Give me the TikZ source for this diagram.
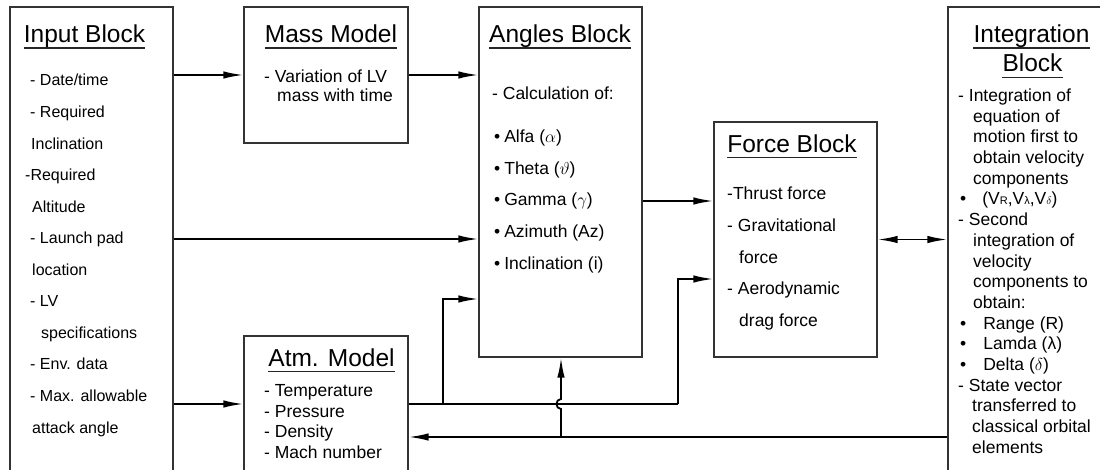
\documentclass[tikz,border=0pt]{standalone}
\usepackage{fontspec}
\setmainfont{Liberation Sans}
\usetikzlibrary{arrows.meta}
\begin{document}
\begin{tikzpicture}[x=1pt,y=-1pt,
  blk/.style={draw=black!80, line width=1.4pt, inner sep=0pt, rectangle},
  ttl/.style={font=\fontsize{24.5}{29}\selectfont, inner sep=0pt, anchor=base},
  txt/.style={inner sep=0pt, anchor=base west},
  ul/.style={line width=1.4pt, black!85},
  con/.style={line width=1.8pt},
  arr/.style={con, -{Latex[length=20pt,width=7.5pt]}},
  darr/.style={con, {Latex[length=20pt,width=7.5pt]}-{Latex[length=20pt,width=7.5pt]}}]
\useasboundingbox (0,0) rectangle (1100,470);
\clip (0,0) rectangle (1100,470);
\fill[white] (0,0) rectangle (1100,470);

% blocks
\node[blk, minimum width=163pt, minimum height=480pt] (input) at (91.5,247) {};
\node[blk, minimum width=164pt, minimum height=136pt] (mass) at (326,75) {};
\node[blk, minimum width=163pt, minimum height=350pt] (angles) at (560.5,182) {};
\node[blk, minimum width=164pt, minimum height=154pt] (atm) at (326,413) {};
\node[blk, minimum width=163pt, minimum height=235pt] (force) at (795.5,239.5) {};
\node[blk, minimum width=162pt, minimum height=480pt] (integ) at (1029,247) {};

% titles
\node[ttl] (inputT) at (84.5,42.5) {Input Block};
\node[ttl] (massT) at (331,42.5) {Mass Model};
\node[ttl] (anglesT) at (560,42.5) {Angles Block};
\node[ttl] (forceT) at (792,152.3) {Force Block};
\node[ttl] (atmT) at (331.5,366) {Atm. Model};
\node[ttl] (integT) at (1031.5,42.5) {Integration};
\node[ttl] (integTb) at (1032.5,72) {Block};
\foreach \t in {inputT,massT,anglesT,forceT,atmT,integT,integTb}
  \draw[ul] ([yshift=-5.5pt]\t.base west) -- ([yshift=-5.5pt]\t.base east);

% body texts
\node[txt, font=\fontsize{16}{31.55}\selectfont] (inputB) at (30,86) {\begin{tabular}[t]{@{}l@{}}
- Date/time\\
- Required\\
\hspace*{1pt}Inclination\\
\hspace*{-5pt}-Required\\
\hspace*{2pt}Altitude\\
- Launch pad\\
\hspace*{2pt}location\\
- LV\\
\hspace*{11pt}specifications\\
- Env. data\\
- Max. allowable\\
\hspace*{2pt}attack angle
\end{tabular}};

\node[txt, font=\fontsize{17.5}{19}\selectfont] (massB) at (264,83) {\begin{tabular}[t]{@{}l@{}}
- Variation of LV\\
\hspace*{13pt}mass with time
\end{tabular}};

\node[txt, font=\fontsize{17.5}{21}\selectfont] (anglesB1) at (492,100) {- Calculation of:};
\node[txt, font=\fontsize{17.5}{31.75}\selectfont] (anglesB2) at (494,142.3) {\begin{tabular}[t]{@{}l@{}}
•\hspace{4pt}Alfa ($\alpha$)\\
•\hspace{4pt}Theta ($\vartheta$)\\
•\hspace{4pt}Gamma ($\gamma$)\\
•\hspace{4pt}Azimuth (Az)\\
•\hspace{4pt}Inclination (i)
\end{tabular}};

\node[txt, font=\fontsize{17.5}{31.6}\selectfont] (forceB) at (727,200) {\begin{tabular}[t]{@{}l@{}}
-Thrust force\\
- Gravitational\\
\hspace*{12pt}force\\
- Aerodynamic\\
\hspace*{12pt}drag force
\end{tabular}};

\node[txt, font=\fontsize{17.5}{20.5}\selectfont] (atmB) at (264,396.7) {\begin{tabular}[t]{@{}l@{}}
- Temperature\\
- Pressure\\
- Density\\
- Mach number
\end{tabular}};

\node[txt, font=\fontsize{17.5}{20.7}\selectfont] (integB) at (958,101.5) {\begin{tabular}[t]{@{}l@{}}
- Integration of\\
\hspace*{15pt}equation of\\
\hspace*{15pt}motion first to\\
\hspace*{15pt}obtain velocity\\
\hspace*{15pt}components\\
\hspace*{2pt}•\hspace{16pt}(V{\fontsize{11}{12}\selectfont R},V{\fontsize{11}{12}\selectfont λ},V{\fontsize{11}{12}\selectfont $\delta$})\\
- Second\\
\hspace*{15pt}integration of\\
\hspace*{15pt}velocity\\
\hspace*{15pt}components to\\
\hspace*{15pt}obtain:\\
\hspace*{2pt}•\hspace{17pt}Range (R)\\
\hspace*{2pt}•\hspace{17pt}Lamda (λ)\\
\hspace*{2pt}•\hspace{17pt}Delta ($\delta$)\\
- State vector\\
\hspace*{14pt}transferred to\\
\hspace*{14pt}classical orbital\\
\hspace*{14pt}elements
\end{tabular}};

% helper coordinates
\coordinate (y239) at (0,239);
\coordinate (y404) at (0,404);
\coordinate (y201) at (0,201);
\coordinate (y299) at (0,299);
\coordinate (y279) at (0,279);
\coordinate (y437) at (0,437);
\coordinate (b1) at (443,404);
\coordinate (b2) at (678,404);
\coordinate (f1) at (561,437);
\coordinate (j1) at (561,409);
\coordinate (j2) at (561,399);

% connectors
\draw[arr] (input.east |- mass.west) -- (mass.west);
\draw[arr] (mass.east) -- (mass.east -| angles.west);
\draw[arr] (input.east |- y239) -- (angles.west |- y239);
\draw[arr] (input.east |- y404) -- (atm.west |- y404);
\draw[arr] (angles.east |- y201) -- (force.west |- y201);
\draw[darr] (force.east) -- (force.east -| integ.west);
\draw[con] (atm.east |- y404) -- (b2);
\draw[arr] (b1) |- (angles.west |- y299);
\draw[arr] (b2) |- (force.west |- y279);
\draw[arr] (integ.west |- y437) -- (atm.east |- y437);
\draw[arr] (f1) -- (j1) .. controls (555,409) and (555,399) .. (j2) -- (angles.south -| f1);
\end{tikzpicture}
\end{document}
